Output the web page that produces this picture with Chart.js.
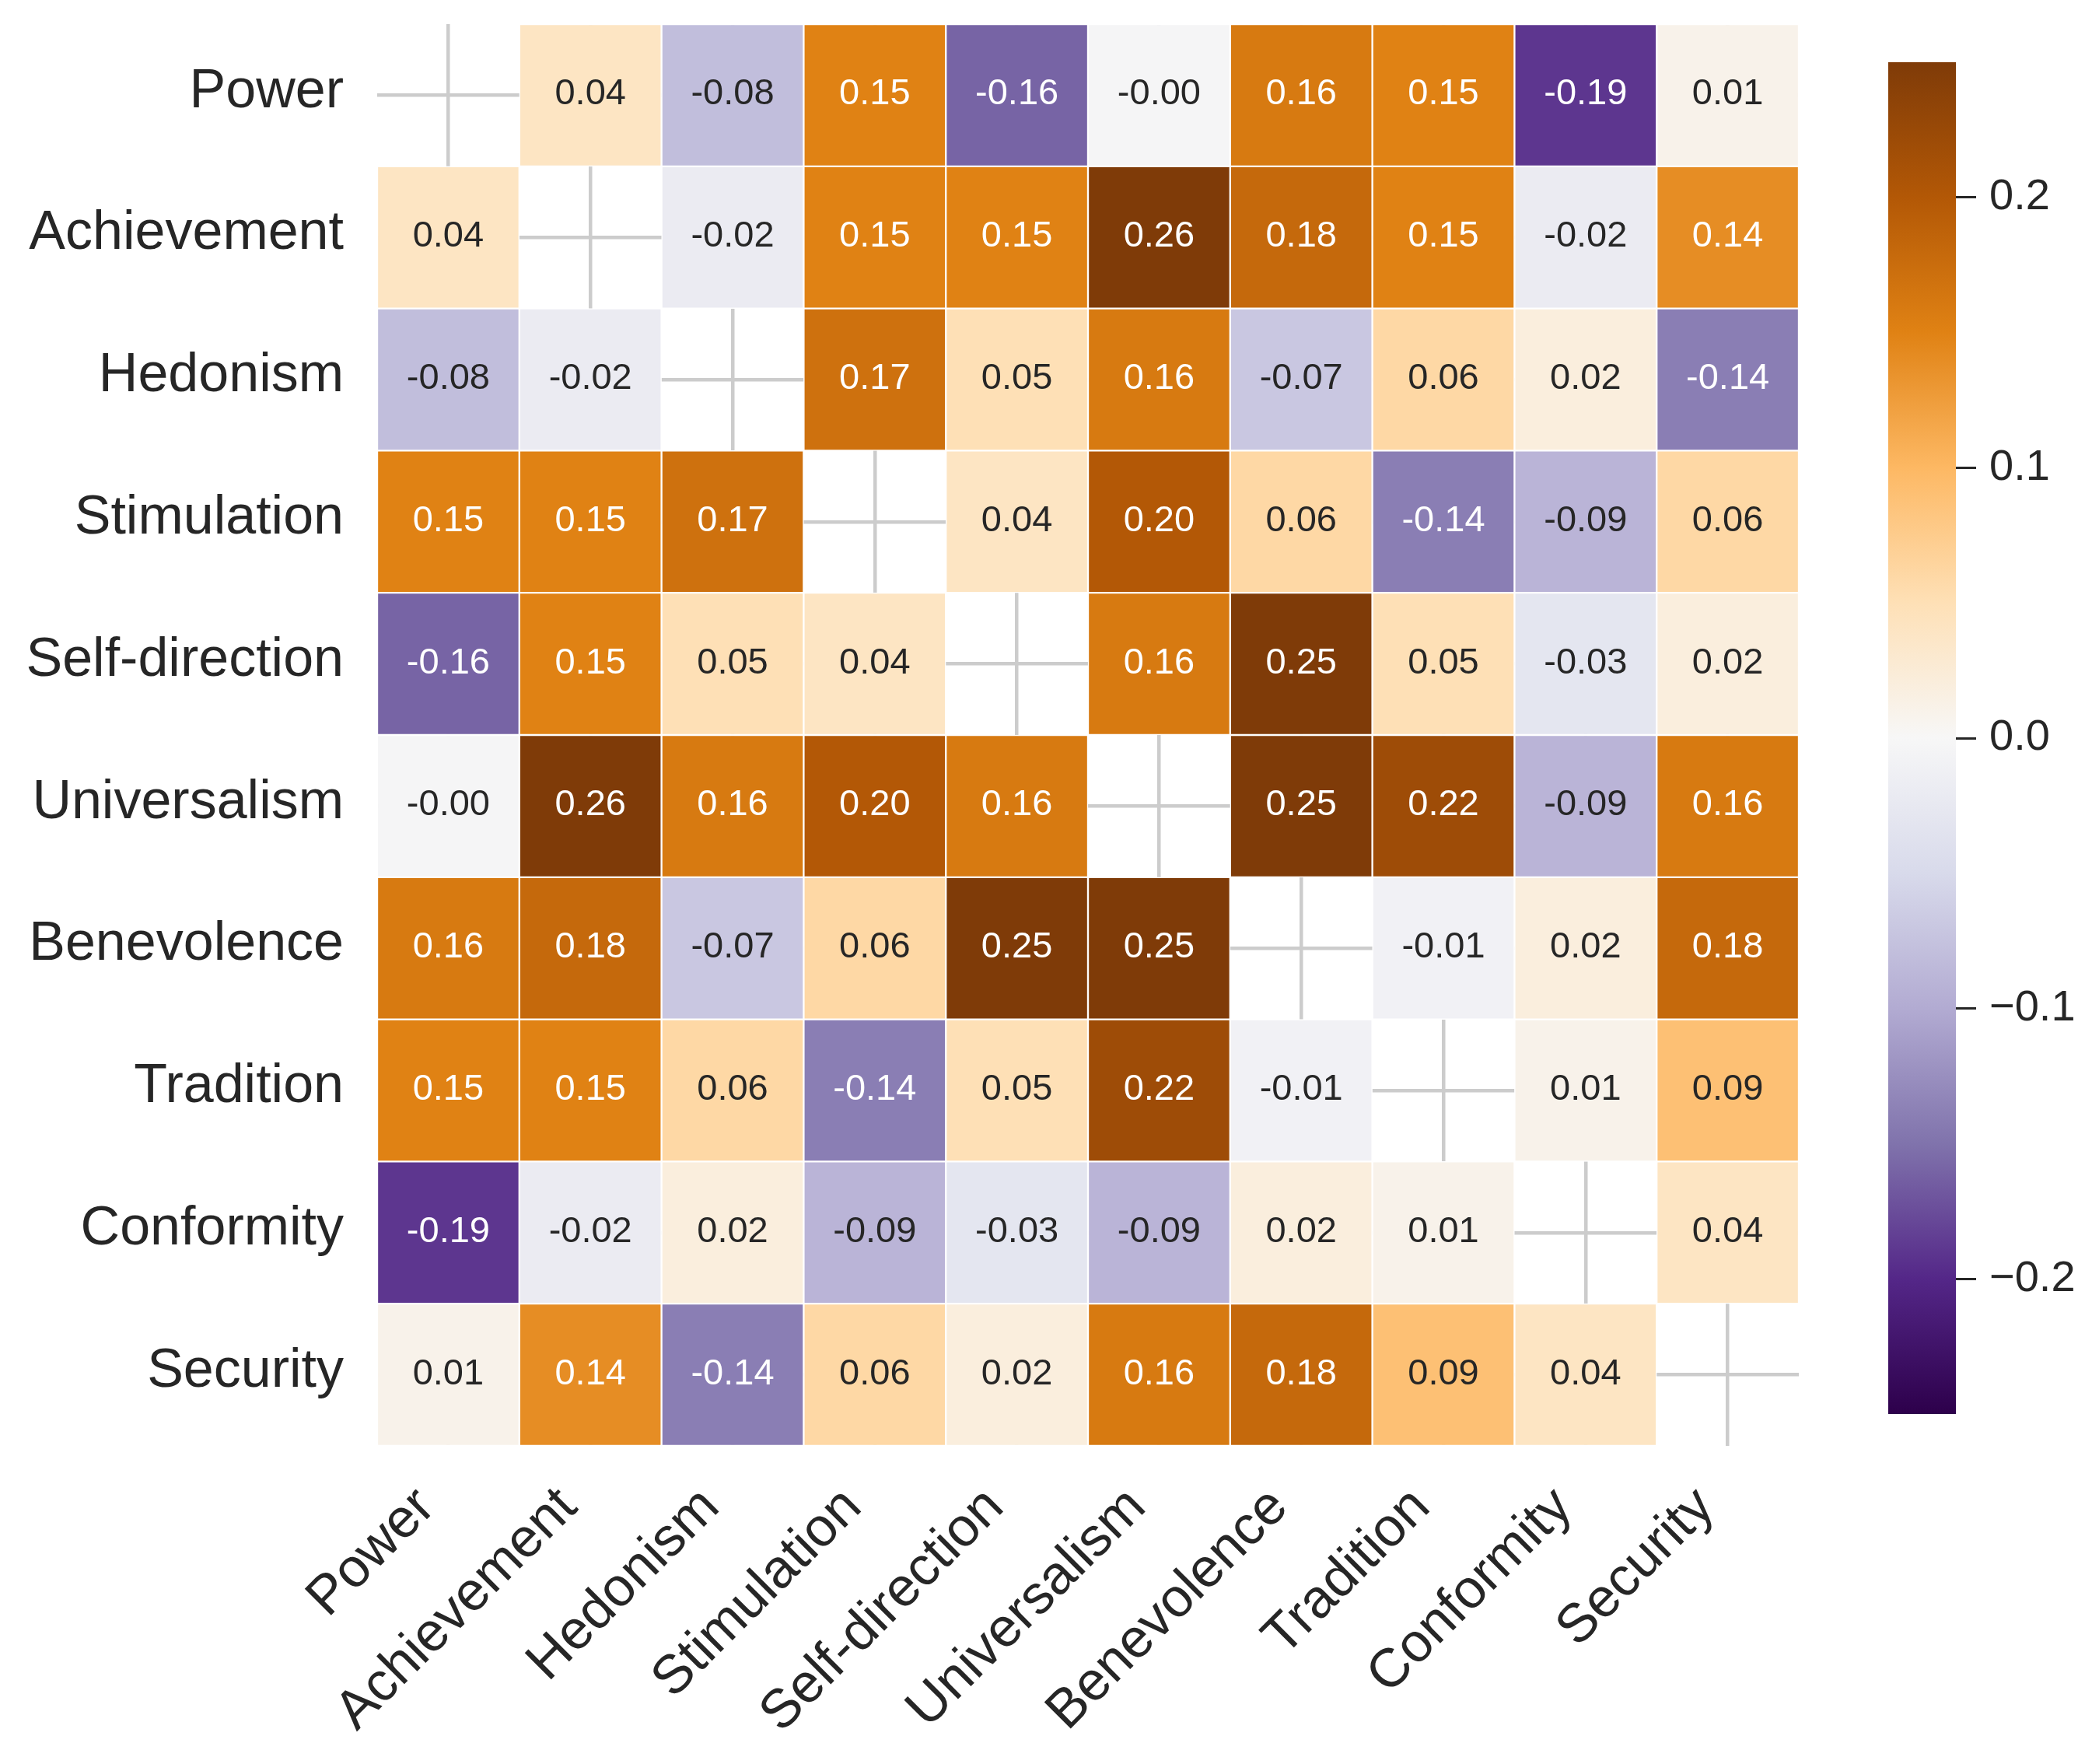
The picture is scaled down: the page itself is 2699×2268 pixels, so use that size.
<!DOCTYPE html>
<html>
<head>
<meta charset="utf-8">
<script src="https://cdn.jsdelivr.net/npm/chart.js@4.4.0/dist/chart.umd.min.js"></script>
<style>
    html, body { margin: 0; padding: 0; background: #ffffff; overflow: hidden; }
    #mapa { position: absolute; left: 0; top: 0; }
    #barra { position: absolute; left: 2400px; top: 0; }
</style>
</head>
<body>
<canvas id="mapa" width="2340" height="2268"></canvas>
<canvas id="barra" width="299" height="2268"></canvas>
<script>
const categorias = ['Power', 'Achievement', 'Hedonism', 'Stimulation', 'Self-direction',
    'Universalism', 'Benevolence', 'Tradition', 'Conformity', 'Security'];

// matriz de correlação (diagonal mascarada = null)
const linhaPower        = [null, 0.04, -0.08, 0.15, -0.16, -0.004, 0.16, 0.15, -0.19, 0.01];
const linhaAchievement  = [0.04, null, -0.02, 0.15, 0.15, 0.26, 0.18, 0.15, -0.02, 0.14];
const linhaHedonism     = [-0.08, -0.02, null, 0.17, 0.05, 0.16, -0.07, 0.06, 0.02, -0.14];
const linhaStimulation  = [0.15, 0.15, 0.17, null, 0.04, 0.20, 0.06, -0.14, -0.09, 0.06];
const linhaSelfDir      = [-0.16, 0.15, 0.05, 0.04, null, 0.16, 0.25, 0.05, -0.03, 0.02];
const linhaUniversalism = [-0.004, 0.26, 0.16, 0.20, 0.16, null, 0.25, 0.22, -0.09, 0.16];
const linhaBenevolence  = [0.16, 0.18, -0.07, 0.06, 0.25, 0.25, null, -0.01, 0.02, 0.18];
const linhaTradition    = [0.15, 0.15, 0.06, -0.14, 0.05, 0.22, -0.01, null, 0.01, 0.09];
const linhaConformity   = [-0.19, -0.02, 0.02, -0.09, -0.03, -0.09, 0.02, 0.01, null, 0.04];
const linhaSecurity     = [0.01, 0.14, -0.14, 0.06, 0.02, 0.16, 0.18, 0.09, 0.04, null];

const correlacoes = [linhaPower, linhaAchievement, linhaHedonism, linhaStimulation, linhaSelfDir,
    linhaUniversalism, linhaBenevolence, linhaTradition, linhaConformity, linhaSecurity];

const ticksBarra = [-0.2, -0.1, 0.0, 0.1, 0.2];
const vmin = -0.25;
const vmax = 0.25;

// PuOr_r
const paleta = ['#2d004b', '#542788', '#8073ac', '#b2abd2', '#d8daeb', '#f7f7f7',
    '#fee0b6', '#fdb863', '#e08214', '#b35806', '#7f3b08'];

const fonte = '"Liberation Sans", Arial, sans-serif';
const corTexto = '#262626';

document.addEventListener('DOMContentLoaded', function () {

    function hexRgb(h) {
        return [1, 3, 5].map(i => parseInt(h.substr(i, 2), 16));
    }

    function corPara(v) {
        let t = (v - vmin) / (vmax - vmin);
        t = Math.min(1, Math.max(0, t));
        const pos = t * (paleta.length - 1);
        const i = Math.min(Math.floor(pos), paleta.length - 2);
        const f = pos - i;
        const a = hexRgb(paleta[i]);
        const b = hexRgb(paleta[i + 1]);
        return a.map((c, k) => Math.round(c + (b[k] - c) * f));
    }

    function luminancia(rgb) {
        const lin = rgb.map(c => {
            c = c / 255;
            return c <= 0.03928 ? c / 12.92 : Math.pow((c + 0.055) / 1.055, 2.4);
        });
        return 0.2126 * lin[0] + 0.7152 * lin[1] + 0.0722 * lin[2];
    }

    // sem margem extra dos rótulos, a área fica onde o layout manda
    function semPadding(scale) {
        scale.paddingTop = 0;
        scale.paddingBottom = 0;
        scale.paddingLeft = 0;
        scale.paddingRight = 0;
    }

    const datasets = correlacoes.map((linha, r) => ({
        label: categorias[r],
        data: linha.map(v => v === null ? null : [r, r + 1]),
        backgroundColor: linha.map(v => {
            if (v === null) return 'rgba(0,0,0,0)';
            const c = corPara(v);
            return `rgb(${c[0]}, ${c[1]}, ${c[2]})`;
        }),
        borderColor: '#ffffff',
        borderWidth: 1.5,
        borderSkipped: false,
        grouped: false,
        barPercentage: 1,
        categoryPercentage: 1
    }));

    // escreve os valores dentro das células
    const anotacoes = {
        id: 'anotacoes',
        afterDatasetsDraw(chart) {
            const ctx = chart.ctx;
            const x = chart.scales.x;
            const y = chart.scales.y;
            ctx.save();
            ctx.font = '47px ' + fonte;
            ctx.textAlign = 'center';
            ctx.textBaseline = 'middle';
            correlacoes.forEach((linha, r) => {
                linha.forEach((v, c) => {
                    if (v === null) return;
                    ctx.fillStyle = luminancia(corPara(v)) > 0.408 ? corTexto : '#ffffff';
                    ctx.fillText(v.toFixed(2), x.getPixelForValue(c), y.getPixelForValue(r + 0.5) - 1);
                });
            });
            ctx.restore();
        }
    };

    new Chart(document.getElementById('mapa'), {
        type: 'bar',
        data: { labels: categorias, datasets: datasets },
        options: {
            responsive: false,
            animation: false,
            devicePixelRatio: 1,
            layout: { padding: { left: 0, top: 31, right: 27, bottom: 0 } },
            plugins: {
                legend: { display: false },
                tooltip: { enabled: false }
            },
            scales: {
                x: {
                    type: 'category',
                    offset: true,
                    grid: { offset: false, color: '#cccccc', lineWidth: 4.5, drawTicks: false },
                    border: { display: false },
                    ticks: {
                        autoSkip: false,
                        minRotation: 45,
                        maxRotation: 45,
                        padding: 38,
                        labelOffset: -28,
                        color: corTexto,
                        font: { family: fonte, size: 70 }
                    },
                    afterFit(scale) {
                        scale.height = 409;
                        semPadding(scale);
                    }
                },
                y: {
                    type: 'linear',
                    min: 0,
                    max: 10,
                    reverse: true,
                    afterBuildTicks(scale) {
                        scale.ticks = categorias.map((_, i) => ({ value: i + 0.5 }));
                    },
                    grid: { color: '#cccccc', lineWidth: 4.5, drawTicks: false },
                    border: { display: false },
                    ticks: {
                        autoSkip: false,
                        padding: 43,
                        labelOffset: -4,
                        color: corTexto,
                        font: { family: fonte, size: 70 },
                        callback: (v, i) => categorias[i]
                    },
                    afterFit(scale) {
                        scale.width = 485;
                        semPadding(scale);
                    }
                }
            }
        },
        plugins: [anotacoes]
    });

    // barra de cores
    new Chart(document.getElementById('barra'), {
        type: 'bar',
        data: {
            labels: [''],
            datasets: [{
                data: [[vmin, vmax]],
                backgroundColor: function (context) {
                    const area = context.chart.chartArea;
                    if (!area) return null;
                    const g = context.chart.ctx.createLinearGradient(0, area.bottom, 0, area.top);
                    paleta.forEach((c, i) => g.addColorStop(i / (paleta.length - 1), c));
                    return g;
                },
                borderWidth: 0,
                barPercentage: 1,
                categoryPercentage: 1
            }]
        },
        options: {
            responsive: false,
            animation: false,
            devicePixelRatio: 1,
            layout: { padding: { left: 28, top: 80, right: 0, bottom: 450 } },
            plugins: {
                legend: { display: false },
                tooltip: { enabled: false }
            },
            scales: {
                x: { display: false },
                y: {
                    position: 'right',
                    min: vmin,
                    max: vmax,
                    afterBuildTicks(scale) {
                        scale.ticks = ticksBarra.map(v => ({ value: v }));
                    },
                    grid: {
                        drawOnChartArea: false,
                        drawTicks: true,
                        tickLength: 26,
                        tickColor: corTexto,
                        tickWidth: 3
                    },
                    border: { display: false },
                    ticks: {
                        padding: 17,
                        color: corTexto,
                        font: { family: fonte, size: 56 },
                        callback: v => (v < 0 ? '\u2212' : '') + Math.abs(v).toFixed(1)
                    },
                    afterFit(scale) {
                        scale.width = 184;
                        semPadding(scale);
                    }
                }
            }
        }
    });
});
</script>
</body>
</html>
